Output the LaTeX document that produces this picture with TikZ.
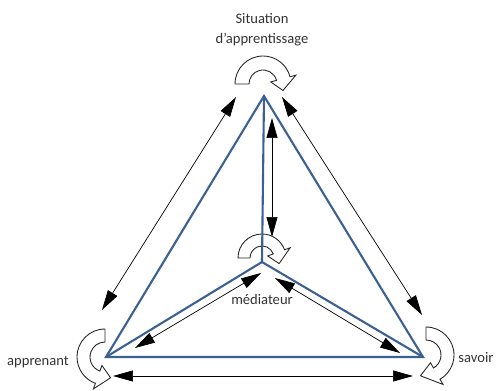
\documentclass[tikz,border=0pt]{standalone}
\usepackage{fontspec}
\setmainfont{Carlito}
\usepackage{tikz}
\usetikzlibrary{arrows.meta}
\definecolor{bleu}{RGB}{60,96,146}
\tikzset{
  fleche/.style={thin,{Triangle[length=0.4cm,width=0.22cm]}-{Triangle[length=0.4cm,width=0.22cm]}},
  cote/.style={bleu,line width=1.2pt,line join=miter},
  boucle/.style={black!85,line width=0.5pt},
  etiq/.style={font=\fontsize{8.3}{11.3}\selectfont,text=black!80},
  pics/virage/.style n args={5}{code={
    \draw[boucle] (#1:#5) arc[start angle=#1,end angle=#2,radius=#5]
      -- (#2:#5+6) -- (#3:#4/2+#5/2) -- (#2:#4-6) -- (#2:#4)
      arc[start angle=#2,end angle=#1,radius=#4] -- cycle;
  }}
}

\begin{document}
\begin{tikzpicture}[x=0.02cm,y=-0.02cm]
\useasboundingbox (0,0) rectangle (497,391);
% sommets
\coordinate (haut) at (264,96);
\coordinate (centre) at (262,262);
\coordinate (gauche) at (106,357);
\coordinate (droite) at (423,357);
% etiquettes
\node[etiq,align=center] (sit) at (262,30) {Situation\\d'apprentissage};
\node[etiq] (med) at (262,299) {médiateur};
\node[etiq] (app) at (38,362) {apprenant};
\node[etiq] (sav) at (476,358) {savoir};
% bouts des fleches
\coordinate (g1) at (102,310); \coordinate (g2) at (236,97);
\coordinate (d1) at (282,97); \coordinate (d2) at (422,315);
\coordinate (b1) at (113,376); \coordinate (b2) at (413,376);
\coordinate (v1) at (272,118); \coordinate (v2) at (272,237);
\coordinate (ig1) at (261,273); \coordinate (ig2) at (135,348);
\coordinate (id1) at (275,278); \coordinate (id2) at (400,353);
% fleches doubles
\draw[fleche] (g1) -- (g2);
\draw[fleche] (d1) -- (d2);
\draw[fleche] (b1) -- (b2);
\draw[fleche] (v1) -- (v2);
\draw[fleche] (ig1) -- (ig2);
\draw[fleche] (id1) -- (id2);
% fleches tournantes
\pic at (263,84) {virage={180}{345}{378}{14}{28}};
\pic at (262,258) {virage={180}{340}{378}{12}{24}};
\pic at (105,357) {virage={270}{110}{75}{15}{28}};
\pic at (426,355) {virage={270}{420}{465}{15}{28}};
% triangle
\draw[cote] (haut) -- (gauche) -- (droite) -- cycle;
\draw[cote] (centre) -- (haut);
\draw[cote] (centre) -- (gauche);
\draw[cote] (centre) -- (droite);
\end{tikzpicture}
\end{document}
